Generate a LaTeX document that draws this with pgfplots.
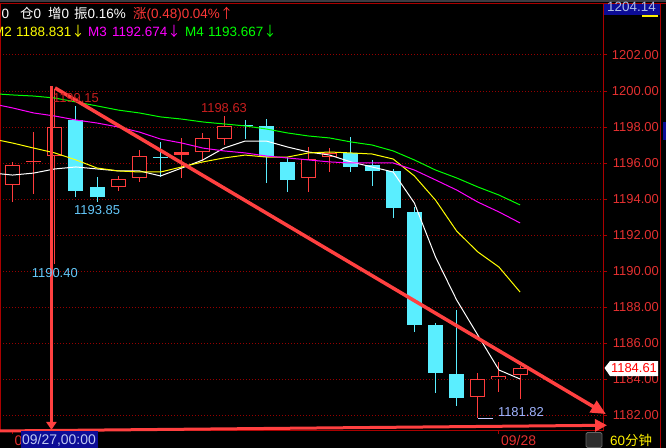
\documentclass[border=0pt]{standalone}
\usepackage{pgfplots}
\pgfplotsset{compat=1.18}
\usepackage{pgfplotstable}
\usetikzlibrary{arrows.meta}
\usepackage{fontspec}
\setmainfont{Liberation Sans}
\newfontfamily\cjk{Noto Sans CJK SC}

\definecolor{upred}{RGB}{255,60,60}
\definecolor{downcyan}{RGB}{90,238,255}
\definecolor{axisred}{RGB}{170,0,0}
\definecolor{gridred}{RGB}{150,0,0}
\definecolor{lblred}{RGB}{228,48,48}
\definecolor{markred}{RGB}{200,30,30}
\definecolor{hdrred}{RGB}{255,55,55}
\definecolor{arrowred}{RGB}{255,64,64}
\definecolor{maw}{RGB}{255,255,255}
\definecolor{may}{RGB}{255,255,0}
\definecolor{mam}{RGB}{255,0,255}
\definecolor{mag}{RGB}{0,255,0}
\definecolor{lowblue}{RGB}{100,200,250}
\definecolor{lowline}{RGB}{200,200,255}
\definecolor{lowtext}{RGB}{160,180,255}
\definecolor{navy}{RGB}{12,12,150}
\definecolor{tagtext}{RGB}{175,190,230}
\definecolor{cursortext}{RGB}{190,200,240}
\definecolor{boxgray}{RGB}{45,45,45}
\definecolor{boxedge}{RGB}{100,100,100}
\definecolor{topgray}{RGB}{60,60,66}

% 60-minute candles, rising (close >= open): index, open, high, low, close
\pgfplotstableread{
i  o       h       l       c
1  1194.78 1196.06 1193.83 1195.89
2  1196.10 1197.70 1194.30 1196.10
3  1196.39 1200.10 1190.40 1198.00
6  1194.67 1195.28 1194.44 1195.11
7  1195.17 1196.72 1194.94 1196.39
9  1196.45 1197.39 1195.17 1196.60
10 1196.61 1197.67 1196.11 1197.39
11 1197.33 1198.63 1197.00 1198.06
15 1195.17 1196.89 1194.39 1196.22
16 1196.33 1196.83 1195.50 1196.56
23 1183.00 1184.33 1181.82 1184.00
24 1184.00 1184.94 1183.28 1184.17
25 1184.22 1184.72 1182.89 1184.61
}\upbars

% falling candles
\pgfplotstableread{
i  o       h       l       c
4  1198.39 1199.15 1194.11 1194.44
5  1194.67 1195.22 1193.85 1194.11
8  1196.33 1197.17 1195.22 1196.33
12 1198.10 1198.40 1197.33 1198.10
13 1198.06 1198.44 1194.89 1196.33
14 1196.06 1196.33 1194.39 1195.06
17 1196.56 1197.44 1195.50 1195.78
18 1195.89 1196.17 1194.72 1195.56
19 1195.56 1195.67 1192.94 1193.50
20 1193.28 1193.56 1186.61 1187.00
21 1187.00 1187.10 1183.22 1184.33
22 1184.28 1187.83 1182.50 1182.94
}\downbars

% moving averages M1..M4
\pgfplotstableread{
i  ma1     ma2     ma3     ma4
0  1195.45 1197.35 1199.30 1199.86
1  1195.33 1197.11 1199.06 1199.78
2  1195.44 1196.83 1198.78 1199.72
3  1195.67 1196.56 1198.61 1199.61
4  1195.78 1196.17 1198.39 1199.39
5  1195.67 1195.72 1198.22 1199.17
6  1195.56 1195.56 1198.00 1198.94
7  1195.56 1195.50 1197.72 1198.78
8  1195.28 1195.50 1197.33 1198.56
9  1195.72 1195.78 1197.11 1198.44
10 1196.17 1196.06 1196.83 1198.28
11 1196.83 1196.28 1196.67 1198.17
12 1197.22 1196.44 1196.56 1198.06
13 1197.22 1196.33 1196.39 1197.89
14 1196.89 1196.33 1196.28 1197.67
15 1196.61 1196.56 1196.17 1197.50
16 1196.44 1196.61 1196.06 1197.39
17 1196.06 1196.56 1196.00 1197.17
18 1195.78 1196.50 1196.00 1197.00
19 1195.50 1196.22 1196.00 1196.67
20 1193.78 1195.28 1195.61 1196.17
21 1190.78 1193.94 1195.06 1195.61
22 1188.39 1192.22 1194.50 1195.17
23 1186.44 1191.06 1193.83 1194.67
24 1184.50 1190.22 1193.28 1194.22
25 1184.00 1188.83 1192.67 1193.67
}\ma

% candle pieces are drawn as vertical error bars with no line and no marker
\pgfplotsset{
  candlepart/.style 2 args={draw=none, mark=none, forget plot,
    error bars/.cd, y dir=both, y explicit, error mark=none,
    error bar style={draw=#1, line width=#2}},
}

\begin{document}
\begin{tikzpicture}[font=\fontsize{13}{15}\selectfont]
\useasboundingbox (0,0) rectangle (666bp,-448bp);
\fill[black] (0,0) rectangle (666bp,-448bp);
\fill[topgray] (0,0) rectangle (666bp,-2bp);
\fill[navy] (663bp,-122bp) rectangle (666bp,-140bp);

\begin{axis}[
  at={(0bp,-3.3bp)}, anchor=north west,
  scale only axis, width=603bp, height=426.7bp,
  xmin=0.409, xmax=28.92,
  ymin=1181.1667, ymax=1204.872,
  clip=false,
  axis line style={draw=axisred, line width=1bp},
  xtick={1,24}, xticklabels={09/27,09/28},
  xtick pos=left, ytick pos=right, yticklabel pos=right,
  ytick={1182,1184,...,1202},
  scaled y ticks=false,
  tick align=outside, major tick length=4bp,
  tick style={draw=axisred, line width=1bp},
  ymajorgrids,
  grid style={draw=gridred, line width=1bp, dash pattern=on 1bp off 2bp},
  yticklabel style={text=lblred, anchor=east, inner sep=0pt, xshift=52bp,
     /pgf/number format/.cd, fixed, fixed zerofill, precision=2, 1000 sep={}},
  xticklabel style={text=lblred, anchor=north west, inner sep=0pt, xshift=2bp, yshift=-1bp,
     font=\fontsize{14}{16}\selectfont},
  /pgf/number format/assume math mode=true,
]

% wicks
\addplot[candlepart={upred}{1bp}]
  table[x=i, y expr={(\thisrow{h}+\thisrow{l})/2}, y error expr={(\thisrow{h}-\thisrow{l})/2}] {\upbars};
\addplot[candlepart={downcyan}{1bp}]
  table[x=i, y expr={(\thisrow{h}+\thisrow{l})/2}, y error expr={(\thisrow{h}-\thisrow{l})/2}] {\downbars};

% rising bodies: red outline, hollow
\addplot[candlepart={upred}{15bp}]
  table[x=i, y expr={(\thisrow{o}+\thisrow{c})/2}, y error expr={max(abs(\thisrow{c}-\thisrow{o})/2,0.028)}] {\upbars};
\addplot[candlepart={black}{13bp}]
  table[x=i, y expr={(\thisrow{o}+\thisrow{c})/2}, y error expr={(abs(\thisrow{c}-\thisrow{o})/2>0.08)*(abs(\thisrow{c}-\thisrow{o})/2-0.0556)}] {\upbars};

% falling bodies: solid cyan
\addplot[candlepart={downcyan}{15bp}]
  table[x=i, y expr={(\thisrow{o}+\thisrow{c})/2}, y error expr={max(abs(\thisrow{c}-\thisrow{o})/2,0.028)}] {\downbars};

% moving averages
\addplot[draw=maw, line width=1bp] table[x=i, y=ma1] {\ma};
\addplot[draw=may, line width=1bp] table[x=i, y=ma2] {\ma};
\addplot[draw=mam, line width=1bp] table[x=i, y=ma3] {\ma};
\addplot[draw=mag, line width=1bp] table[x=i, y=ma4] {\ma};

% trend arrows
\addplot[draw=arrowred, line width=2.5bp, -{Triangle[length=8bp,width=10bp]}]
  coordinates {(2.84,1200.28) (2.84,1181.17)};
\addplot[draw=arrowred, line width=3.5bp, -{Triangle[length=15bp,width=13bp]}]
  coordinates {(3.01,1200.17) (29.06,1182.05)};
\addplot[draw=arrowred, line width=3bp, -{Triangle[length=12bp,width=12bp]}]
  coordinates {(0.2,1181.11) (29.11,1181.43)};

% high / low marks
\node[text=markred, anchor=base, inner sep=0pt, yshift=3.3bp] at (axis cs:4,1199.15) {1199.15};
\node[text=markred, anchor=base, inner sep=0pt, yshift=2.7bp] at (axis cs:11,1198.63) {1198.63};
\node[text=lowblue, anchor=base, inner sep=0pt, yshift=-12.3bp] at (axis cs:5,1193.85) {1193.85};
\node[text=lowblue, anchor=base, inner sep=0pt, yshift=-13.8bp] at (axis cs:3,1190.40) {1190.40};
\addplot[draw=lowline, line width=1bp] coordinates {(23,1181.82) (23.72,1181.82)};
\node[text=lowtext, anchor=base, inner sep=0pt, yshift=2.2bp] at (axis cs:25.04,1181.82) {1181.82};
\end{axis}

% frame pieces around the price scale
\draw[axisred, line width=1bp] (603bp,-3.3bp) -- (666bp,-3.3bp);
\draw[axisred, line width=1bp] (660bp,-3.3bp) -- (660bp,-448bp);
\fill[navy] (604bp,-3.8bp) rectangle (659.5bp,-15bp);
\node[anchor=base, text=tagtext, inner sep=0pt, font=\fontsize{13.5}{15}\selectfont] at (631.5bp,-11.7bp) {1204.14};
\fill[yellow] (642bp,-15.3bp) rectangle (658bp,-16.7bp);

% last price tag
\fill[white] (604.5bp,-368bp) -- (610bp,-361bp) -- (658bp,-361bp) -- (658bp,-376bp) -- (610bp,-376bp) -- cycle;
\node[anchor=base, text=red, inner sep=0pt] at (634bp,-372.8bp) {1184.61};

% cursor time and period
\fill[navy] (20.5bp,-431bp) rectangle (98bp,-448bp);
\node[anchor=base west, text=cursortext, inner sep=0pt, font=\fontsize{14}{16}\selectfont] at (22bp,-444.5bp) {09/27,00:00};
\filldraw[fill=boxgray, draw=boxedge, line width=0.8bp, rounded corners=1.5bp] (586bp,-432.5bp) rectangle (602bp,-447.5bp);
\node[anchor=base west, text=yellow, inner sep=0pt, font=\fontsize{13.5}{15}\selectfont] at (610bp,-445bp) {60{\cjk 分钟}};

% quote header
\begin{scope}[every node/.style={inner sep=0pt, anchor=base west}, font=\fontsize{13.5}{15}\selectfont]
\node[text=white] at (1.5bp,-18.3bp) {0};
\node[text=white] at (20bp,-18.3bp) {{\cjk 仓}0};
\node[text=white] at (48bp,-18.3bp) {{\cjk 增}0};
\node[text=white] at (74bp,-18.3bp) {{\cjk 振}0.16\%};
\node[text=hdrred] at (133bp,-18.3bp) {{\cjk 涨}(0.48)0.04\%{\cjk ↑}};
\node[text=may] at (-7bp,-36.5bp) {M2};
\node[text=may] at (16bp,-36.5bp) {1188.831{\cjk ↓}};
\node[text=mam] at (88bp,-36.5bp) {M3};
\node[text=mam] at (112bp,-36.5bp) {1192.674{\cjk ↓}};
\node[text=mag] at (185bp,-36.5bp) {M4};
\node[text=mag] at (208bp,-36.5bp) {1193.667{\cjk ↓}};
\end{scope}
\end{tikzpicture}
\end{document}
